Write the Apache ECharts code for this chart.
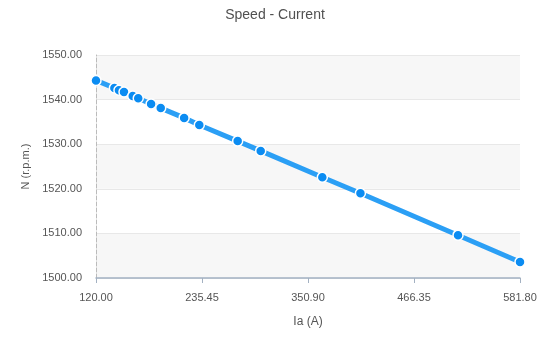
<!DOCTYPE html>
<html>
<head>
<meta charset="utf-8">
<script src="https://cdn.jsdelivr.net/npm/echarts@6/dist/echarts.min.js"></script>
<style>html,body{margin:0;padding:0;background:#fff}#c{width:550px;height:341px}</style>
</head>
<body>
<div id="c"></div>
<script>
var titleText = 'Speed - Current';
var xName = 'Ia (A)';
var yName = 'N (r.p.m.)';
var currentA = [120, 140, 145, 150.5, 160, 166, 180, 190.5, 216, 232.5, 274.3, 299.4, 366.5, 408, 514.3, 581.8];
var speedRpm = [1544.3, 1542.6, 1542.1, 1541.7, 1540.8, 1540.3, 1539.0, 1538.1, 1535.9, 1534.3, 1530.7, 1528.5, 1522.6, 1519.0, 1509.6, 1503.6];
var xMin = 120, xMax = 581.8, xStep = 115.45;
var yMin = 1500, yMax = 1550, yStep = 10;

var FONT = '"Liberation Sans", Arial, sans-serif';
var points = currentA.map(function (x, i) { return [x, speedRpm[i]]; });
var chart = echarts.init(document.getElementById('c'));
chart.setOption({
  animation: false,
  title: { text: titleText, left: 'center', top: 3, textStyle: { fontSize: 14, fontWeight: 'normal', color: '#505050', fontFamily: FONT } },
  grid: { left: 96, right: 30, top: 55, bottom: 63 },
  xAxis: {
    type: 'value', min: xMin, max: xMax, interval: xStep,
    name: xName, nameLocation: 'middle', nameGap: 38,
    nameTextStyle: { color: '#555', fontSize: 12, fontFamily: FONT },
    axisLine: { lineStyle: { color: '#a3b1c2', width: 1.5 } },
    axisTick: { show: true, length: 5, lineStyle: { color: '#a3b1c2' } },
    axisLabel: { color: '#555', fontSize: 11, margin: 14, fontFamily: FONT, formatter: function (v) { return v.toFixed(2); } },
    splitLine: { show: false }
  },
  yAxis: {
    type: 'value', min: yMin, max: yMax, interval: yStep,
    name: yName, nameLocation: 'middle', nameGap: 57,
    nameTextStyle: { color: '#555', fontSize: 11, fontFamily: FONT },
    axisLine: { show: true, lineStyle: { color: '#bbb', type: 'dashed' } },
    axisTick: { show: false },
    axisLabel: { color: '#555', fontSize: 11, margin: 14, fontFamily: FONT, formatter: function (v) { return v.toFixed(2); } },
    splitLine: { show: true, lineStyle: { color: '#e8e8e8' } },
    splitArea: { show: true, areaStyle: { color: ['#f7f7f7', '#ffffff'] } }
  },
  series: [{
    type: 'line', data: points,
    symbol: 'circle', symbolSize: 10,
    lineStyle: { color: '#2b9ff5', width: 5 },
    itemStyle: { color: '#0b8cf2', borderColor: '#fff', borderWidth: 1.5 }
  }]
});
</script>
</body>
</html>
